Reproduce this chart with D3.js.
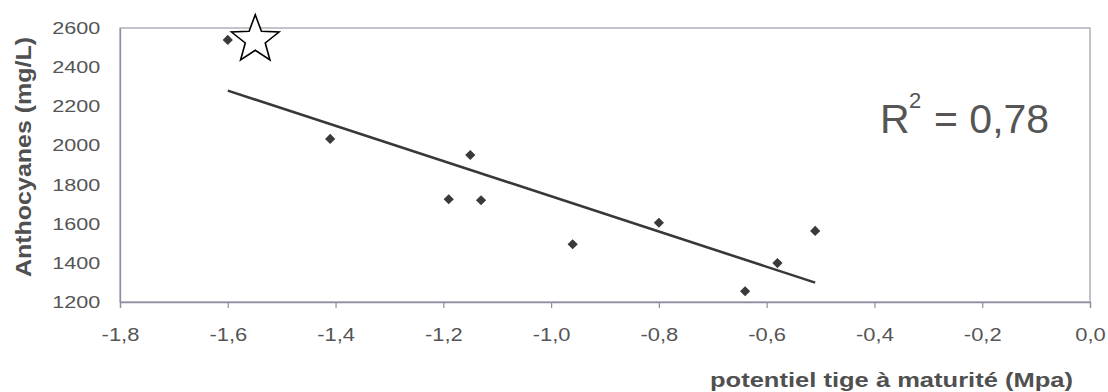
<!DOCTYPE html>
<html>
<head>
<meta charset="utf-8">
<script src="https://d3js.org/d3.v7.min.js"></script>
<style>
  body { margin: 0; background: #fff; }
  text { font-family: "Liberation Sans", Arial, sans-serif; }
</style>
</head>
<body>
<div id="chart"></div>
<script>
// values
var potentiel = [-1.60, -1.41, -1.15, -1.19, -1.13, -0.96, -0.80, -0.58, -0.64, -0.51];
var anthocyanes = [2539, 2033, 1951, 1725, 1720, 1495, 1605, 1399, 1255, 1563];
// trend line end points (as drawn in the figure)
var trendX = [-1.60, -0.51];
var trendY = [2280, 1299];
var xTicks = [-1.8, -1.6, -1.4, -1.2, -1.0, -0.8, -0.6, -0.4, -0.2, 0.0];
var yTicks = [1200, 1400, 1600, 1800, 2000, 2200, 2400, 2600];
var r2Label = "= 0,78";
// star annotation, in data units
var starPos = [-1.549, 2540];

var W = 1108, H = 392;
var mLeft = 120, mRight = 1090, mTop = 28, mBottom = 302;

var svg = d3.select("#chart").append("svg")
    .attr("width", W).attr("height", H);

var x = d3.scaleLinear().domain([-1.8, 0]).range([mLeft, mRight]);
var y = d3.scaleLinear().domain([1200, 2600]).range([mBottom, mTop]);

// french decimal comma, plain hyphen for the sign
var fmt = function(d) { return d3.format(".1f")(d).replace(".", ",").replace("\u2212", "-"); };

// plot frame
svg.append("rect")
    .attr("x", mLeft).attr("y", mTop)
    .attr("width", mRight - mLeft).attr("height", mBottom - mTop)
    .attr("fill", "none")
    .attr("stroke", "#a4a4b0")
    .attr("stroke-width", 1.3);

// x axis
var gx = svg.append("g")
    .attr("transform", "translate(0," + mBottom + ")")
    .call(d3.axisBottom(x).tickValues(xTicks).tickFormat(fmt).tickSize(6).tickPadding(20));
gx.select(".domain").attr("stroke", "#8e8ea0").attr("stroke-width", 1.3);
gx.selectAll(".tick line").attr("stroke", "#8e8ea0").attr("stroke-width", 1.2);
gx.selectAll(".tick text")
    .attr("fill", "#555")
    .style("font-size", "18px")
    .attr("transform", "scale(1.22,1)");

// y axis
var gy = svg.append("g")
    .attr("transform", "translate(" + mLeft + ",0)")
    .call(d3.axisLeft(y).tickValues(yTicks).tickFormat(d3.format("d")).tickSize(0).tickPadding(15.5));
gy.select(".domain").attr("stroke", "#8e8ea0").attr("stroke-width", 1.3);
gy.selectAll(".tick text")
    .attr("fill", "#555")
    .style("font-size", "17px")
    .attr("transform", "scale(1.27,1)");

// axis titles
svg.append("text")
    .attr("transform", "translate(31,157) rotate(-90)")
    .attr("text-anchor", "middle")
    .attr("textLength", 240)
    .attr("lengthAdjust", "spacingAndGlyphs")
    .attr("fill", "#505050")
    .style("font-size", "22px")
    .style("font-weight", "bold")
    .text("Anthocyanes (mg/L)");

svg.append("text")
    .attr("x", 710).attr("y", 387)
    .attr("textLength", 363)
    .attr("lengthAdjust", "spacingAndGlyphs")
    .attr("fill", "#505050")
    .style("font-size", "21px")
    .style("font-weight", "bold")
    .text("potentiel tige à maturité (Mpa)");

// trend line
svg.append("line")
    .attr("x1", x(trendX[0])).attr("y1", y(trendY[0]))
    .attr("x2", x(trendX[1])).attr("y2", y(trendY[1]))
    .attr("stroke", "#383838")
    .attr("stroke-width", 2.6);

// points (diamonds)
var sq = d3.symbol().type(d3.symbolSquare).size(52);
svg.selectAll(".pt")
    .data(potentiel)
    .enter().append("path")
    .attr("class", "pt")
    .attr("d", sq)
    .attr("transform", function(d, i) {
        return "translate(" + x(d) + "," + y(anthocyanes[i]) + ") rotate(45)";
    })
    .attr("fill", "#3a3a3a");

// R² label
var r2 = svg.append("g").attr("fill", "#555");
r2.append("text").attr("x", 880).attr("y", 133)
    .style("font-size", "41px").text("R");
r2.append("text").attr("x", 909).attr("y", 108)
    .style("font-size", "22px").text("2");
r2.append("text").attr("x", 934).attr("y", 133)
    .style("font-size", "41px").text(r2Label);

// star annotation
var R = 25, r = 10.5;
var starPts = [];
for (var k = 0; k < 10; k++) {
    var rad = k % 2 == 0 ? R : r;
    var a = -Math.PI / 2 + k * Math.PI / 5;
    starPts.push([rad * Math.cos(a), rad * Math.sin(a)]);
}
svg.append("path")
    .attr("d", d3.line()(starPts) + "Z")
    .attr("transform", "translate(" + x(starPos[0]) + "," + y(starPos[1]) + ")")
    .attr("fill", "#fff")
    .attr("stroke", "#000")
    .attr("stroke-width", 1.6)
    .attr("stroke-linejoin", "miter");
</script>
</body>
</html>
